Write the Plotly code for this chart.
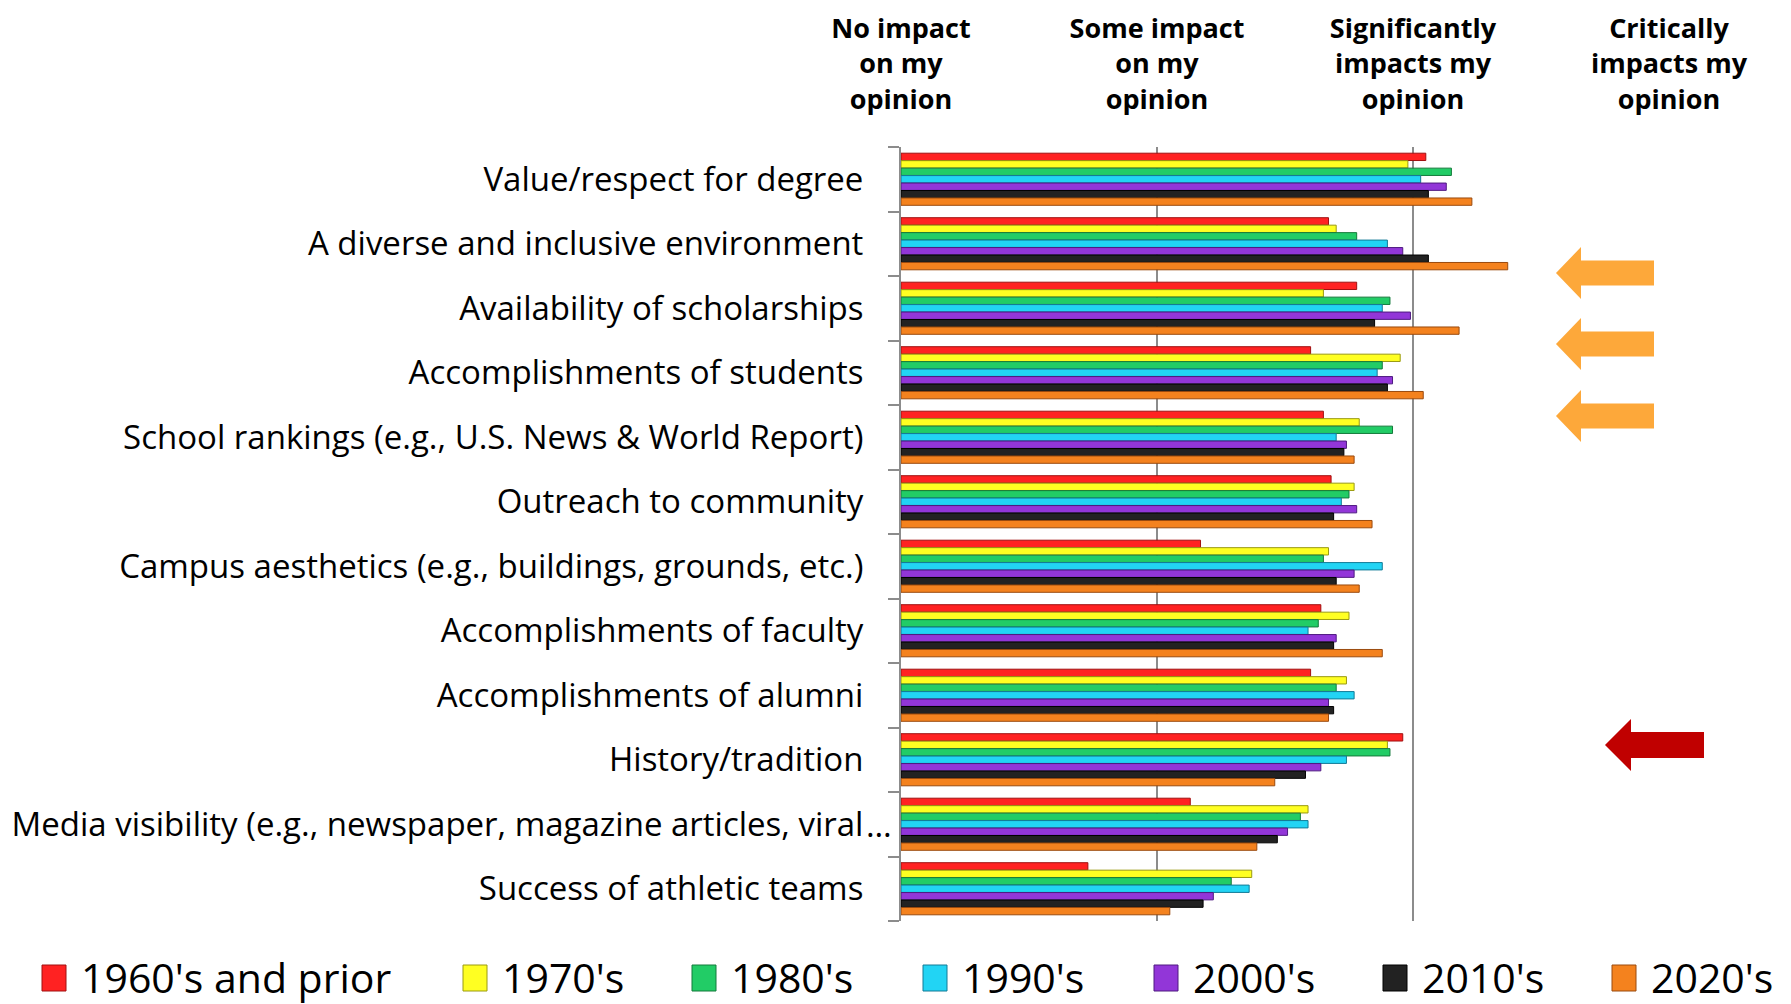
import plotly.graph_objects as go

categories = [
    "Value/respect for degree",
    "A diverse and inclusive environment",
    "Availability of scholarships",
    "Accomplishments of students",
    "School rankings (e.g., U.S. News & World Report)",
    "Outreach to community",
    "Campus aesthetics (e.g., buildings, grounds, etc.)",
    "Accomplishments of faculty",
    "Accomplishments of alumni",
    "History/tradition",
    "Media visibility (e.g., newspaper, magazine articles, viral…",
    "Success of athletic teams",
]

series_names = ["1960's and prior", "1970's", "1980's", "1990's", "2000's", "2010's", "2020's"]

v1960 = [2.05, 1.67, 1.78, 1.60, 1.65, 1.68, 1.17, 1.64, 1.60, 1.96, 1.13, 0.73]
v1970 = [1.98, 1.70, 1.65, 1.95, 1.79, 1.77, 1.67, 1.75, 1.74, 1.90, 1.59, 1.37]
v1980 = [2.15, 1.78, 1.91, 1.88, 1.92, 1.75, 1.65, 1.63, 1.70, 1.91, 1.56, 1.29]
v1990 = [2.03, 1.90, 1.88, 1.86, 1.70, 1.72, 1.88, 1.59, 1.77, 1.74, 1.59, 1.36]
v2000 = [2.13, 1.96, 1.99, 1.92, 1.74, 1.78, 1.77, 1.70, 1.67, 1.64, 1.51, 1.22]
v2010 = [2.06, 2.06, 1.85, 1.90, 1.73, 1.69, 1.70, 1.69, 1.69, 1.58, 1.47, 1.18]
v2020 = [2.23, 2.37, 2.18, 2.04, 1.77, 1.84, 1.79, 1.88, 1.67, 1.46, 1.39, 1.05]
series_values = [v1960, v1970, v1980, v1990, v2000, v2010, v2020]

scale_vals = [0, 1, 2, 3]
scale_text = [
    "No impact<br>on my<br>opinion",
    "Some impact<br>on my<br>opinion",
    "Significantly<br>impacts my<br>opinion",
    "Critically<br>impacts my<br>opinion",
]

fill_colors = ["#FF2222", "#FFFF22", "#22CC66", "#22D4F4", "#9236D8", "#222222", "#F4821E"]
edge_colors = ["#A01010", "#9A9A10", "#137A3A", "#137A96", "#4E1A80", "#000000", "#9A4A0E"]

OFF = 8  # page body margin
W, H = 1783, 996
ML, MT, PW, PH = 893, 139, 768, 774
MR, MB = W - ML - PW, H - MT - PH


def px2x(px):
    return (px - OFF - ML) / PW


def py2y(py):
    return (H - MB - (py - OFF)) / PH


# Tick texts: the truncated label's ellipsis hangs over the axis as in the reference
ELL = "…"
tick_text = [c[:-1] if c.endswith(ELL) else c for c in categories]

fig = go.Figure()
for name, vals, fc, ec in zip(series_names, series_values, fill_colors, edge_colors):
    fig.add_trace(go.Bar(
        y=categories, x=vals, name=name, orientation="h",
        marker=dict(color=fc, line=dict(color=ec, width=1)),
        showlegend=False,
    ))

shapes = []
annotations = []

for c in categories:
    if c.endswith(ELL):
        annotations.append(dict(xref="paper", yref="y", x=px2x(864), y=c, xanchor="left", yanchor="middle",
                                showarrow=False, text=ELL,
                                font=dict(family="Open Sans", size=33, color="#000000")))

# Legend (drawn manually for large swatches)
leg_sq = [42, 463, 692, 923, 1154, 1383, 1612]
for name, fc, ec, sx in zip(series_names, fill_colors, edge_colors, leg_sq):
    shapes.append(dict(type="rect", xref="paper", yref="paper",
                       x0=px2x(sx), x1=px2x(sx + 24), y0=py2y(991), y1=py2y(965),
                       fillcolor=fc, line=dict(color=ec, width=1), layer="above"))
    annotations.append(dict(xref="paper", yref="paper", x=px2x(sx + 37), y=py2y(977),
                            xanchor="left", yanchor="middle", showarrow=False, text=name,
                            font=dict(family="Open Sans", size=41, color="#000000")))


def arrow(x_tip, x_back, x_end, yc, head_half, shaft_half):
    pts = [
        (x_tip, yc),
        (x_back, yc - head_half),
        (x_back, yc - shaft_half),
        (x_end, yc - shaft_half),
        (x_end, yc + shaft_half),
        (x_back, yc + shaft_half),
        (x_back, yc + head_half),
    ]
    return "M " + " L ".join(f"{px2x(a):.5f},{py2y(b):.5f}" for a, b in pts) + " Z"


for yc in [273, 344, 416]:
    shapes.append(dict(type="path", xref="paper", yref="paper", path=arrow(1556, 1581, 1654, yc, 26, 12.5),
                       fillcolor="#FDA83A", line=dict(width=0), layer="above"))
shapes.append(dict(type="path", xref="paper", yref="paper", path=arrow(1605, 1631, 1704, 745, 26, 13),
                   fillcolor="#C00000", line=dict(width=0), layer="above"))

fig.update_layout(
    width=W, height=H,
    margin=dict(l=ML, r=MR, t=MT, b=MB, autoexpand=False),
    paper_bgcolor="white", plot_bgcolor="white",
    barmode="group", bargap=0.19, bargroupgap=0.02,
    shapes=shapes, annotations=annotations,
    xaxis=dict(
        range=[0, 3], side="top", tickvals=scale_vals, ticktext=scale_text,
        showgrid=True, gridcolor="#8C8C8C", gridwidth=2, zeroline=False,
        showline=False, ticks="", ticklabelstandoff=32,
        tickfont=dict(family="Open Sans", size=27, color="#000000", weight="bold"),
    ),
    yaxis=dict(
        categoryorder="array", categoryarray=categories, range=[11.5, -0.5],
        tickmode="array", tickvals=categories, ticktext=tick_text,
        showline=True, linecolor="#8C8C8C", linewidth=2,
        ticks="outside", tickson="boundaries", ticklen=11, tickcolor="#8C8C8C", tickwidth=2,
        ticklabelstandoff=29, showgrid=False,
        tickfont=dict(family="Open Sans", size=33, color="#000000"),
    ),
    font=dict(family="Open Sans"),
)

fig.write_html("out.html")
